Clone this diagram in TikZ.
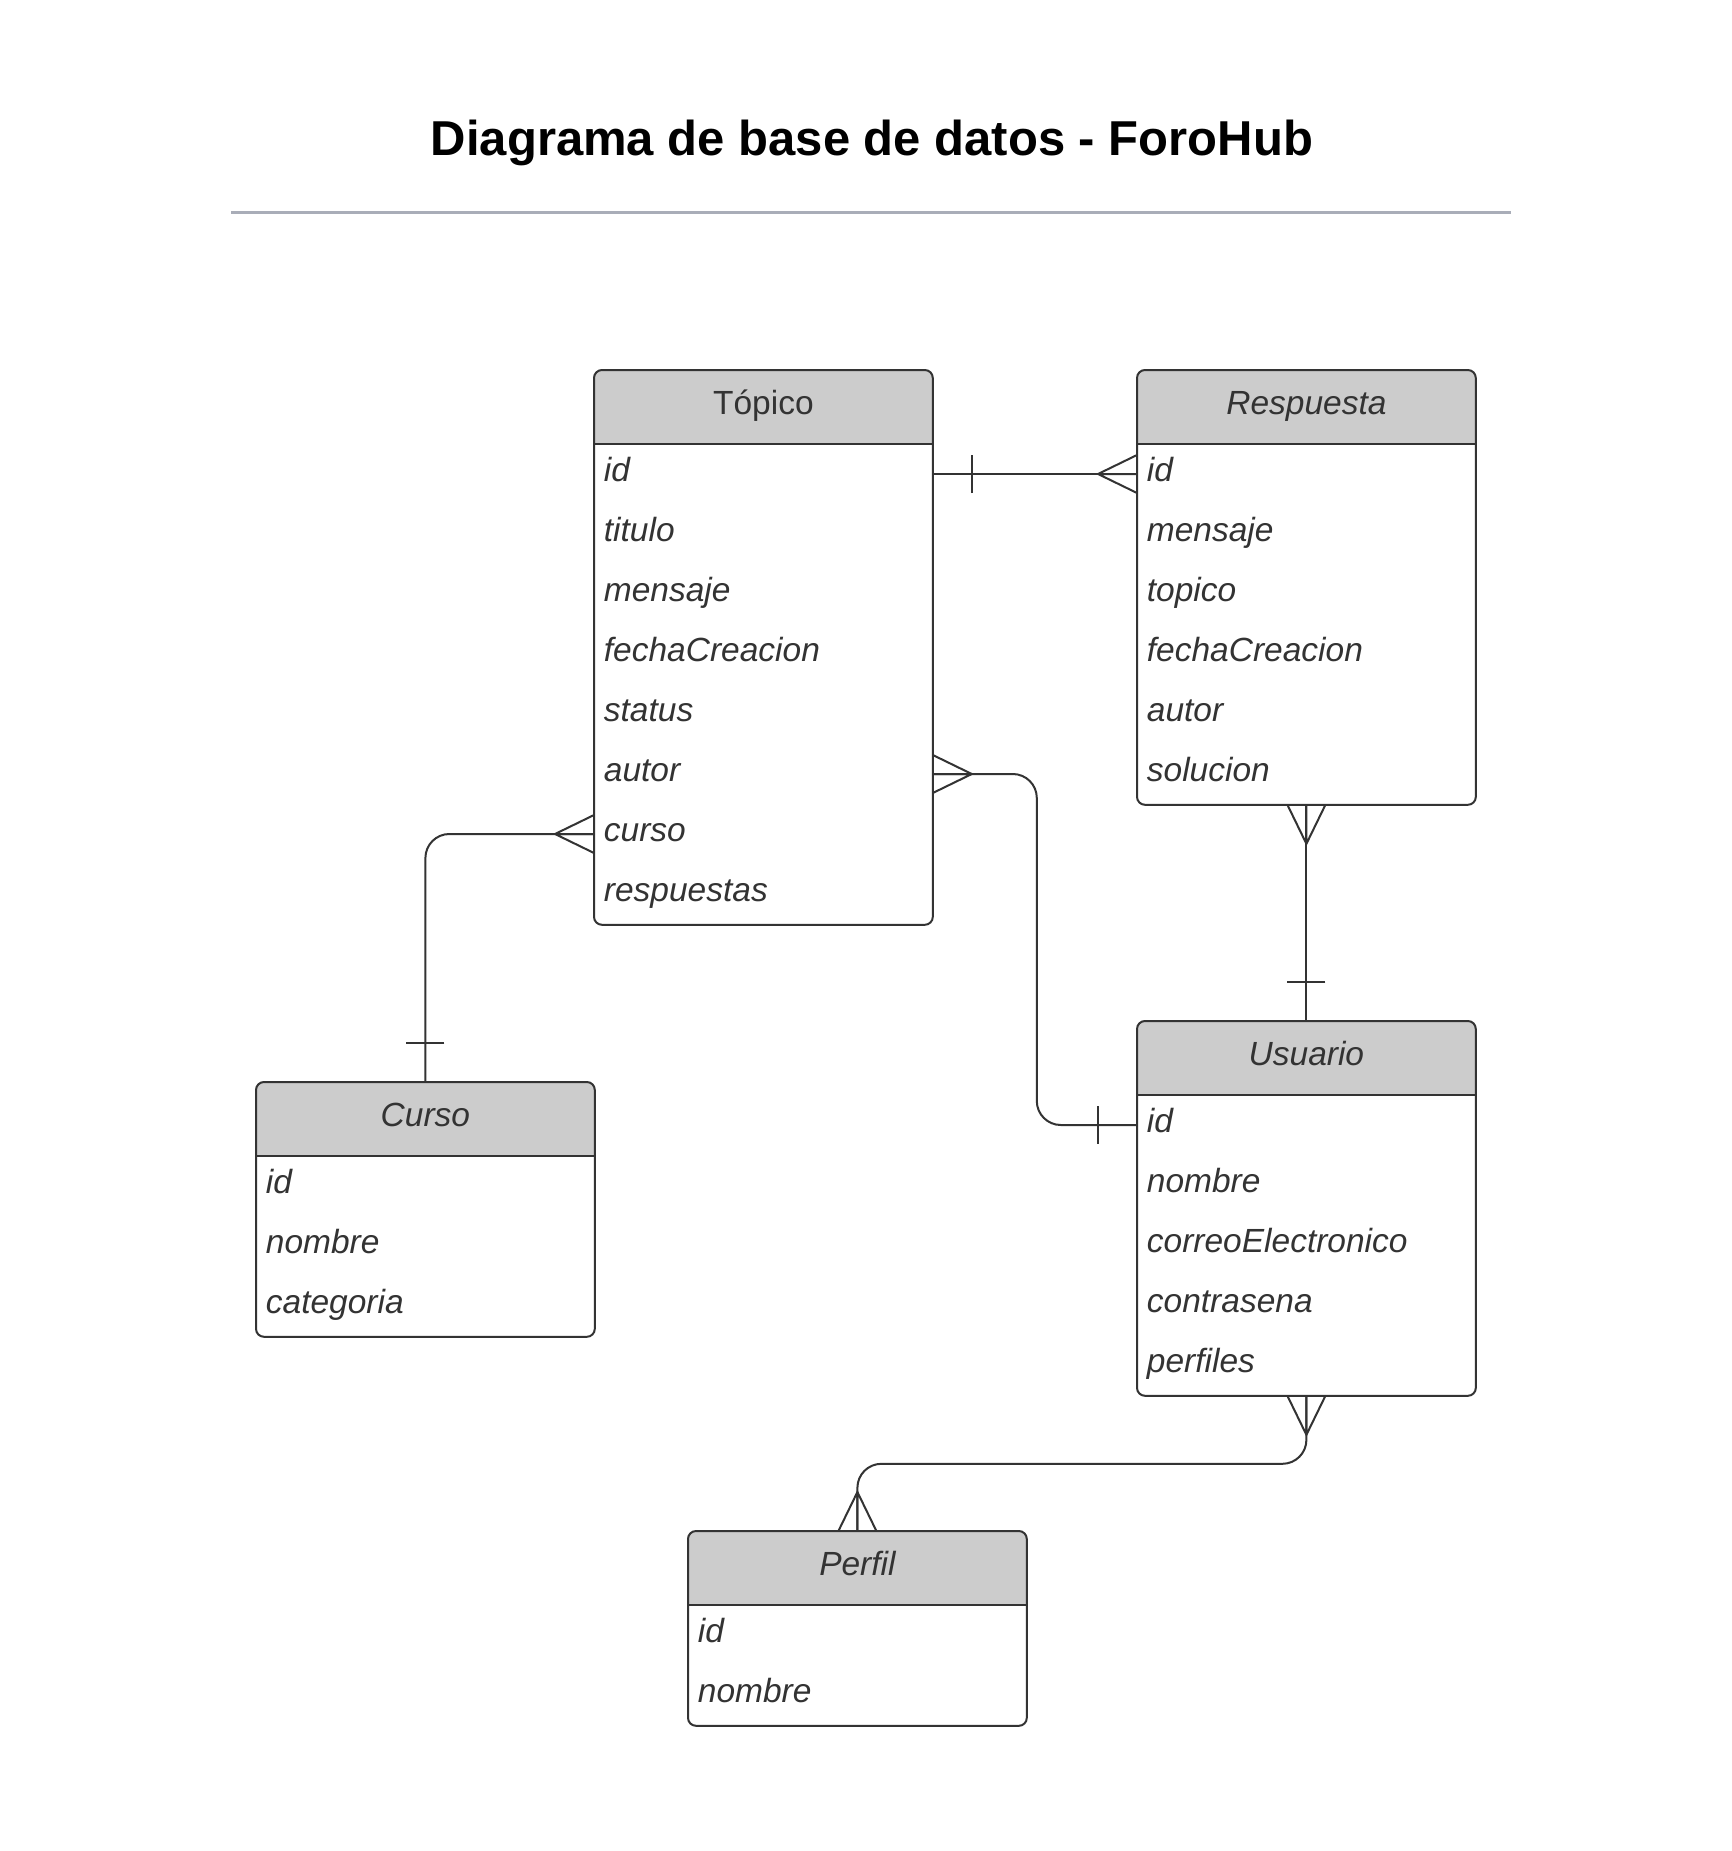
\documentclass[tikz,border=0pt]{standalone}
\usepackage{fontspec}
\setmainfont{Liberation Sans}
\usetikzlibrary{calc}
\definecolor{ink}{HTML}{333333}
\definecolor{headgray}{HTML}{CCCCCC}
\definecolor{rulegray}{HTML}{A9ADB8}
\tikzset{%
	entbox/.style={rectangle, fill=white, inner sep=0mm, minimum width=169pt},
	entline/.style={draw=ink, line width=1pt},
	entitle/.style={inner sep=0mm, text height=14pt, text depth=7pt, text=ink, font=\fontsize{16.75}{20}\selectfont},
	attr/.style={anchor=west, inner sep=0mm, text height=14pt, text depth=7pt, text=ink, font=\fontsize{16.75}{20}\selectfont\itshape},
	conn/.style={draw=ink, line width=1pt, rounded corners=12pt},
	crowfoot/.pic={\draw[draw=ink, line width=1pt] (0,-19) -- (-39,0) -- (0,19) (-39,0) -- (0,0);},
	onebar/.pic={\draw[draw=ink, line width=1pt] (-39,-19) -- (-39,19);}
}
% entity: name, north west corner, title, number of rows, attributes
\newcommand{\entity}[5]{%
	\node [entbox, minimum height={37pt+#4*30pt}, anchor=north west] (#1) at #2 {};
	\begin{scope}
		\clip [rounded corners=4pt] (#1.north west) rectangle (#1.south east);
		\fill [headgray] (#1.north west) rectangle ([yshift=-37pt]#1.north east);
	\end{scope}
	\draw [entline] ([yshift=-37pt]#1.north west) -- ([yshift=-37pt]#1.north east);
	\node [entitle] (#1-title) at ([yshift=-18.5pt]#1.north) {#3};
	\foreach \a [count=\i] in {#5}
		\node [attr] (#1-\i) at ([xshift=4.75pt, yshift={-37pt-(\i-0.5)*30pt}]#1.north west) {\a};
	\draw [entline, rounded corners=4pt] (#1.north west) rectangle (#1.south east);
}

\begin{document}
\begin{tikzpicture}[x=0.5pt, y=-0.5pt]
	\useasboundingbox (0,0) rectangle (1731,1851);
	\fill [white] (0,0) rectangle (1731,1851);

	%title
	\node [inner sep=0mm, text height=19.5pt, text depth=2pt, font=\fontsize{24.5}{28}\selectfont\bfseries] (title) at (872,138) {Diagrama de base de datos - ForoHub};
	\draw [rulegray, line width=1.5pt] (231,213) -- (1511,213);

	%entities
	\entity{topico}{(594,370)}{Tópico}{8}{id, titulo, mensaje, fechaCreacion, status, autor, curso, respuestas}
	\entity{respuesta}{(1137,370)}{\itshape Respuesta}{6}{id, mensaje, topico, fechaCreacion, autor, solucion}
	\entity{usuario}{(1137,1021)}{\itshape Usuario}{5}{id, nombre, correoElectronico, contrasena, perfiles}
	\entity{curso}{(256,1082)}{\itshape Curso}{3}{id, nombre, categoria}
	\entity{perfil}{(688,1531)}{\itshape Perfil}{2}{id, nombre}

	%relations
	\draw [conn] (topico-1 -| topico.east) -- (respuesta-1 -| respuesta.west);
	\pic [rotate=180] at (topico-1 -| topico.east) {onebar};
	\pic at (respuesta-1 -| respuesta.west) {crowfoot};

	\draw [conn] (topico-6 -| topico.east) -- ++(104,0) |- (usuario-1 -| usuario.west);
	\pic [rotate=180] at (topico-6 -| topico.east) {crowfoot};
	\pic [thin] at (usuario-1 -| usuario.west) {onebar};

	\draw [conn] (topico-7 -| topico.west) -| (curso.north);
	\pic at (topico-7 -| topico.west) {crowfoot};
	\pic [rotate=-90] at (curso.north) {onebar};

	\draw [conn] (respuesta.south) -- (usuario.north);
	\pic [rotate=90] at (respuesta.south) {crowfoot};
	\pic [rotate=-90] at (usuario.north) {onebar};

	\draw [conn] (usuario.south) -- ++(0,68) -| (perfil.north);
	\pic [rotate=90] at (usuario.south) {crowfoot};
	\pic [rotate=-90] at (perfil.north) {crowfoot};
\end{tikzpicture}
\end{document}
